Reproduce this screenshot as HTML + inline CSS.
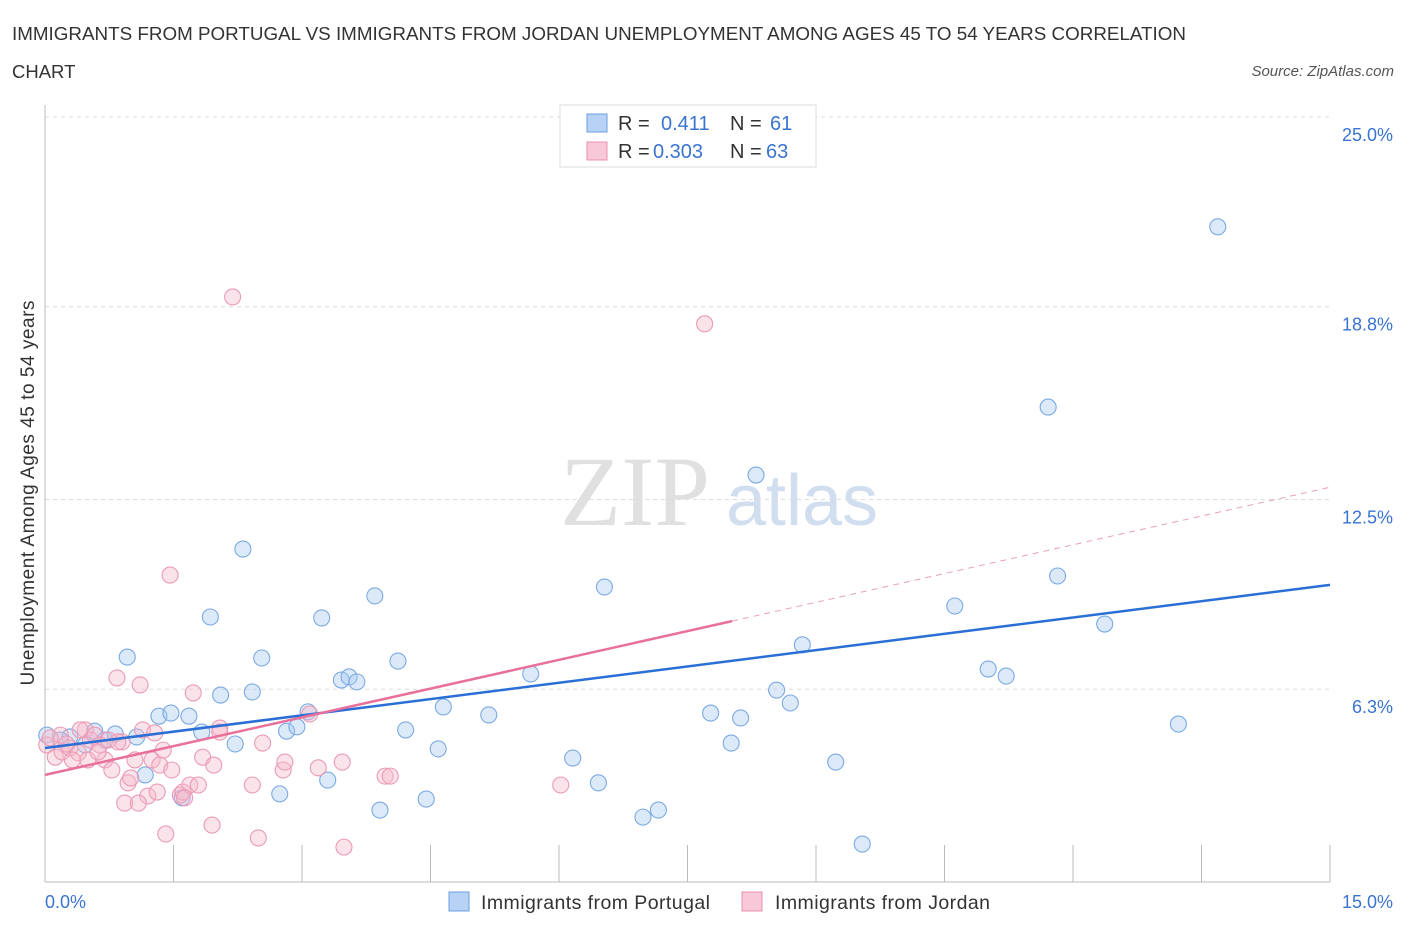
<!DOCTYPE html>
<html><head><meta charset="utf-8"><style>
body{margin:0;background:#fff;font-family:"Liberation Sans",sans-serif;}
</style></head><body>
<svg id="c" width="1406" height="930" xmlns="http://www.w3.org/2000/svg">
<text x="12" y="40" font-size="18.5" fill="#333" textLength="1174" lengthAdjust="spacingAndGlyphs">IMMIGRANTS FROM PORTUGAL VS IMMIGRANTS FROM JORDAN UNEMPLOYMENT AMONG AGES 45 TO 54 YEARS CORRELATION</text>
<text x="12" y="78" font-size="18.5" fill="#333">CHART</text>
<text x="1394" y="76" font-size="15" fill="#555" font-style="italic" text-anchor="end">Source: ZipAtlas.com</text>
<text x="635" y="525" font-size="100" fill="#e0e0e0" font-family="Liberation Serif,serif" text-anchor="middle">ZIP</text>
<text x="802" y="525" font-size="72" fill="#d0deef" text-anchor="middle">atlas</text>
<g id="grid"></g><g id="axes"></g><g id="pts"></g><g id="lines"></g>
<text transform="translate(34,493) rotate(-90)" font-size="19" fill="#333" text-anchor="middle" textLength="385">Unemployment Among Ages 45 to 54 years</text>
<text x="45" y="908" font-size="18" fill="#3a74d0">0.0%</text>
<text x="1393" y="908" font-size="18" fill="#3a74d0" text-anchor="end">15.0%</text>
<g>
<rect x="560" y="105" width="256" height="62" fill="#fff" stroke="#ddd"/>
<rect x="587" y="114" width="20" height="18" fill="#b8d2f5" stroke="#6a9fe0"/>
<text x="618" y="130" font-size="20" fill="#333">R = </text><text x="661" y="130" font-size="20" fill="#3a74d0">0.411</text>
<text x="730" y="130" font-size="20" fill="#333">N = </text><text x="770" y="130" font-size="20" fill="#3a74d0">61</text>
<rect x="587" y="142" width="20" height="18" fill="#f8c8d8" stroke="#e890ae"/>
<text x="618" y="158" font-size="20" fill="#333">R = </text><text x="653" y="158" font-size="20" fill="#3a74d0">0.303</text>
<text x="730" y="158" font-size="20" fill="#333">N = </text><text x="766" y="158" font-size="20" fill="#3a74d0">63</text>
</g>
<g>
<rect x="449" y="892" width="20" height="19" fill="#b8d2f5" stroke="#6a9fe0"/>
<text x="481" y="909" font-size="19.5" fill="#333" textLength="229">Immigrants from Portugal</text>
<rect x="742" y="892" width="20" height="19" fill="#f8c8d8" stroke="#e890ae"/>
<text x="775" y="909" font-size="19.5" fill="#333" textLength="215">Immigrants from Jordan</text>
</g>
</svg>
<script>
const yTicks=[6.3,12.5,18.8,25.0];
const xTickVals=[0,1.5,3,4.5,6,7.5,9,10.5,12,13.5,15];
const bluePx=[[47,735],[70,737],[95,731],[105,740],[115,734],[127,657],[137,737],[145,775],[159,716],[171,713],[182,798],[189,716],[202,732],[210,617],[221,695],[235,744],[243,549],[252,692],[262,658],[280,794],[287,731],[297,727],[308,712],[322,618],[328,780],[341,680],[349,677],[357,682],[375,596],[380,810],[398,661],[406,730],[426,799],[438,749],[443,707],[489,715],[531,674],[573,758],[598,783],[604,587],[643,817],[658,810],[711,713],[731,743],[741,718],[756,475],[777,690],[790,703],[802,645],[836,762],[862,844],[955,606],[988,669],[1006,676],[1048,407],[1058,576],[1105,624],[1178,724],[1218,227],[60,740],[85,745]];
const pinkPx=[[47,745],[55,757],[62,752],[70,748],[78,753],[85,730],[90,740],[95,735],[100,745],[105,760],[112,770],[117,678],[122,742],[128,783],[131,778],[135,760],[140,685],[143,730],[148,796],[152,760],[155,733],[160,765],[163,750],[166,834],[170,575],[172,770],[180,795],[183,792],[190,785],[193,693],[198,785],[203,757],[212,825],[214,765],[220,728],[233,297],[252,785],[258,838],[263,743],[283,770],[285,762],[310,714],[318,768],[342,762],[344,847],[385,776],[390,776],[561,785],[705,324],[60,735],[72,760],[88,760],[98,752],[108,740],[118,742],[125,803],[138,803],[157,792],[185,798],[220,732],[50,738],[66,744],[80,730]];
const blueX=bluePx.map(p=>+((p[0]-45)/85.667).toFixed(2));
const blueY=bluePx.map(p=>+((882-p[1])/30.6).toFixed(2));
const pinkX=pinkPx.map(p=>+((p[0]-45)/85.667).toFixed(2));
const pinkY=pinkPx.map(p=>+((882-p[1])/30.6).toFixed(2));
const blueTrend=[4.38,9.71];
const pinkTrend=[3.5,12.9];
const pinkSolidEnd=8.02;
const X=v=>45+v*85.667, Y=v=>882-v*30.6;
const NS="http://www.w3.org/2000/svg";
function mk(t,a,p){const e=document.createElementNS(NS,t);for(const k in a)e.setAttribute(k,a[k]);p.appendChild(e);return e;}
const grid=document.getElementById('grid'),axes=document.getElementById('axes'),pts=document.getElementById('pts'),lines=document.getElementById('lines');
yTicks.forEach(v=>{const y=v===25?117:Y(v);
const l=mk('line',{x1:45,x2:1330,y1:y,y2:y,stroke:'#ddd','stroke-dasharray':'4,4'},grid);


const t=mk('text',{x:1393,y:y+24,'font-size':18,fill:'#3a74d0','text-anchor':'end'},grid);t.textContent=v.toFixed(1)+'%';

});
const ax=mk('line',{x1:45,x2:1330,y1:882,y2:882,stroke:'#bbb'},axes);


const ay=mk('line',{x1:45,x2:45,y1:105,y2:882,stroke:'#bbb'},axes);


xTickVals.forEach(v=>{const t=mk('line',{x1:X(v),x2:X(v),y1:845,y2:882,stroke:'#bbb'},axes);

});
function dots(xs,ys,fill,stroke,name){xs.forEach((x,i)=>{const c=mk('circle',{cx:X(x),cy:Y(ys[i]),r:8,fill:fill,stroke:stroke,'stroke-width':1.1},pts);

});}
dots(blueX,blueY,'rgba(168,200,240,0.4)','#7aaae4','portugal-point');
dots(pinkX,pinkY,'rgba(245,184,203,0.4)','#eb9ab6','jordan-point');
const bl=mk('line',{x1:X(0),y1:Y(blueTrend[0]),x2:X(15),y2:Y(blueTrend[1]),stroke:'#2a6fd6','stroke-width':2.5},lines);


const pAt=v=>pinkTrend[0]+(pinkTrend[1]-pinkTrend[0])*v/15;
const pl=mk('line',{x1:X(0),y1:Y(pinkTrend[0]),x2:X(pinkSolidEnd),y2:Y(pAt(pinkSolidEnd)),stroke:'#e8709a','stroke-width':2.5},lines);


const pd=mk('line',{x1:X(pinkSolidEnd),y1:Y(pAt(pinkSolidEnd)),x2:X(15),y2:Y(pinkTrend[1]),stroke:'#e8a0b8','stroke-width':1,'stroke-dasharray':'6,5'},lines);


</script>
</body></html>
